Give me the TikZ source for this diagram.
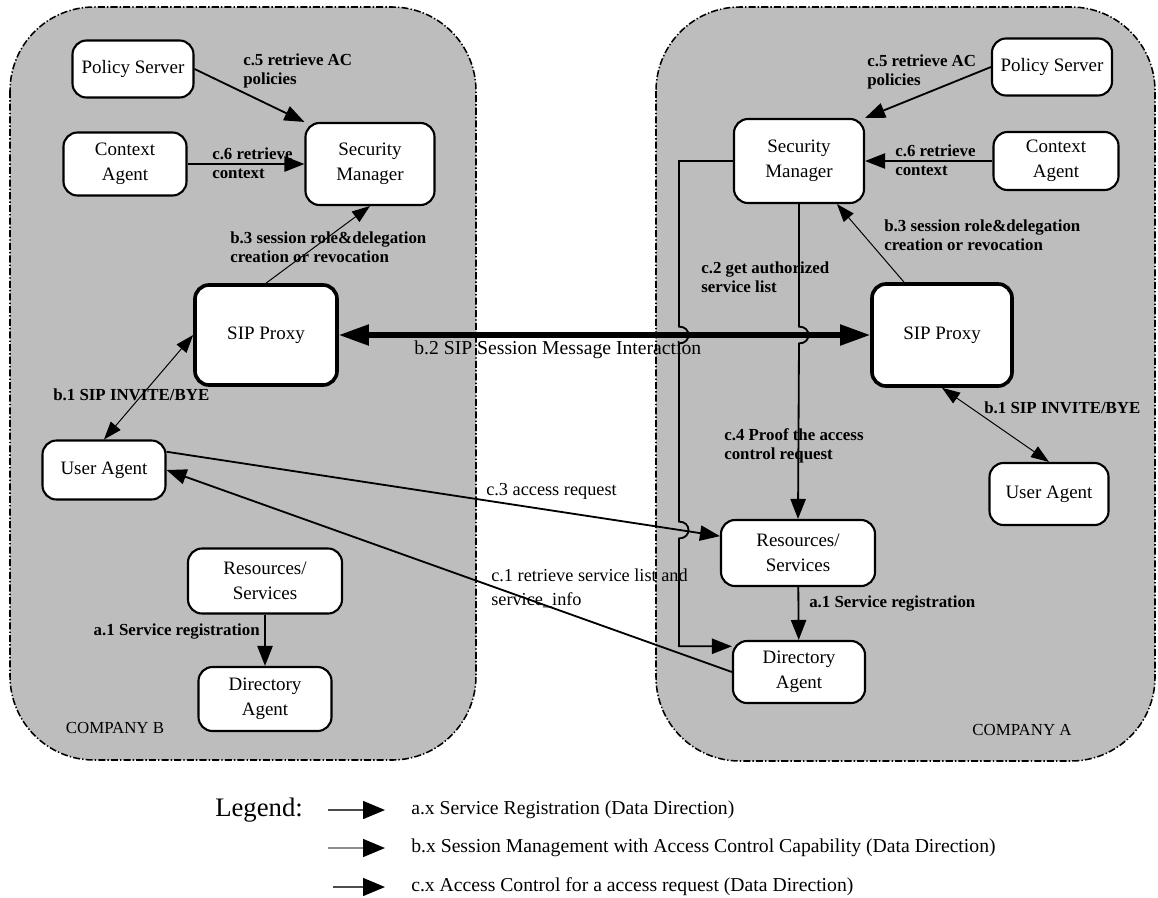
\documentclass[tikz,border=0pt]{standalone}
\usepackage{fontspec}
\setmainfont{Liberation Serif}
\usetikzlibrary{positioning,arrows.meta,calc}
\tikzset{
  company/.style={draw, dash pattern=on 5pt off 1.5pt on 1pt off 1.5pt, line width=1.1pt, rounded corners=21mm, fill=black!26},
  unit/.style={draw, rounded corners=3.5mm, line width=1.5pt, fill=white, align=center, minimum width=30mm, minimum height=15mm, font=\fontsize{13.5}{17.5}\selectfont},
  proxy/.style={unit, line width=2.6pt, minimum width=35.5mm, minimum height=25mm},
  reqarrow/.style={-{Triangle[length=5mm,width=3.8mm]}, line width=1.3pt},
  sessarrow/.style={{Triangle[length=4.5mm,width=3.2mm]}-{Triangle[length=4.5mm,width=3.2mm]}, line width=0.7pt},
  sesstip/.style={-{Triangle[length=4.5mm,width=3.2mm]}, line width=0.7pt},
  bigarrow/.style={{Triangle[length=7.5mm,width=5mm]}-{Triangle[length=7.5mm,width=5mm]}, line width=3.6pt},
  steplabel/.style={font=\bfseries\fontsize{12}{13.5}\selectfont, align=left, inner sep=0pt},
  msglabel/.style={font=\fontsize{13}{17}\selectfont, align=left, inner sep=0pt},
  keytext/.style={font=\fontsize{14}{17}\selectfont, anchor=west, inner sep=0pt},
  keyarrow/.style={-{Triangle[length=5.5mm,width=4.5mm,color=black]}, line width=1pt}
}

\begin{document}
\begin{tikzpicture}[x=0.25mm, y=-0.25mm]
      \useasboundingbox (0,0) rectangle (1158,897);
      \draw[company] (10,7) rectangle (476,760);
      \draw[company] (656,7) rectangle (1155,761);
      \node[font=\fontsize{12}{14}\selectfont] (compB) at (115,728) {COMPANY B};
      \node[font=\fontsize{12}{14}\selectfont] (compA) at (1022,730) {COMPANY A};

      % company B
      \node[unit, minimum width=30.25mm, minimum height=14.25mm] (polB) at (133,69) {Policy Server};
      \node[unit, minimum width=30.75mm, minimum height=15.75mm] (ctxB) at (125,164) {Context\\Agent};
      \node[unit, minimum width=32.25mm, minimum height=20.5mm] (secB) at (370,164) {Security\\Manager};
      \node[proxy] (sipB) at (266,335) {SIP Proxy};
      \node[unit, minimum width=30.75mm, minimum height=14.75mm] (uaB) at (104,470) {User Agent};
      \node[unit, minimum width=38.5mm, minimum height=16.25mm] (resB) at (265,581) {Resources/\\Services};
      \node[unit, minimum width=33.25mm, minimum height=16mm] (dirB) at (265,699) {Directory\\Agent};

      % company A
      \node[unit, minimum width=30mm, minimum height=14.25mm] (polA) at (1052,67) {Policy Server};
      \node[unit, minimum width=31.25mm, minimum height=14.5mm] (ctxA) at (1056,161) {Context\\Agent};
      \node[unit, minimum width=32.5mm, minimum height=21mm] (secA) at (799,161) {Security\\Manager};
      \node[proxy, minimum width=35mm, minimum height=25.5mm] (sipA) at (942,335) {SIP Proxy};
      \node[unit, minimum width=29.75mm, minimum height=15.5mm] (uaA) at (1049,494) {User Agent};
      \node[unit, minimum width=38.5mm, minimum height=16.5mm] (resA) at (798,553) {Resources/\\Services};
      \node[unit, minimum width=33mm, minimum height=15.5mm] (dirA) at (799,672) {Directory\\Agent};

      \coordinate (c2x) at (679,0);
      \coordinate (c3hop) at (679,530);
      \coordinate (c2end) at ([yshift=-4.5pt]dirA.north west);

      % connectors
      \draw[reqarrow] (polB.east) -- (secB.north west);
      \draw[reqarrow] (ctxB) -- (secB);
      \draw[sesstip] (sipB.north) -- (secB.south);
      \draw[sessarrow] (uaB.north) -- (sipB.west);
      \draw[reqarrow] (resB) -- (dirB);
      \draw[bigarrow] (sipB) -- (sipA);
      \draw[reqarrow] (polA.west) -- (secA.north east);
      \draw[reqarrow] (ctxA) -- (secA);
      \draw[sesstip] ([xshift=-27pt]sipA.north) -- ([xshift=27pt]secA.south);
      \draw[sessarrow] (sipA.south) -- (uaA.north);
      \draw[reqarrow] (resA) -- (dirA);
      \draw[reqarrow] ([yshift=13pt]uaB.east) -- ([yshift=12pt]resA.west);
      \draw[reqarrow] (dirA.west) -- (uaB.east);
      \draw[reqarrow] (secA.south) -- ([yshift=6pt]secA.south |- sipA.west)
        .. controls +(9pt,0) and +(9pt,0) .. ([yshift=-6pt]secA.south |- sipA.west) -- (resA.north);
      \draw[reqarrow] (secA.west) -- (c2x |- secA.west) -- ([yshift=6pt]c2x |- sipA.west)
        .. controls +(9pt,0) and +(9pt,0) .. ([yshift=-6pt]c2x |- sipA.west) -- ([yshift=6pt]c3hop)
        .. controls +(9pt,0) and +(9pt,0) .. ([yshift=-6pt]c3hop) -- (c2x |- c2end) -- (c2end);

      % labels
      \node[steplabel, anchor=west] (c5B) at (243,71) {c.5 retrieve AC\\policies};
      \node[steplabel, anchor=west] (c6B) at (212,163) {c.6 retrieve\\context};
      \node[steplabel, anchor=west] (b3B) at (230,247) {b.3 session role\&delegation\\creation or revocation};
      \node[steplabel, anchor=west] (b1B) at (53,395) {b.1 SIP INVITE/BYE};
      \node[steplabel, anchor=east] (a1B) at (260,631) {a.1 Service registration};
      \node[msglabel, anchor=west, font=\fontsize{14}{17}\selectfont] (b2) at (414,350) {b.2 SIP Session Message Interaction};
      \node[steplabel, anchor=west] (c5A) at (867,72) {c.5 retrieve AC\\policies};
      \node[steplabel, anchor=west] (c6A) at (895,160) {c.6 retrieve\\context};
      \node[steplabel, anchor=west] (b3A) at (884,235) {b.3 session role\&delegation\\creation or revocation};
      \node[steplabel, anchor=west] (b1A) at (984,408) {b.1 SIP INVITE/BYE};
      \node[steplabel, anchor=west] (c2) at (701,277) {c.2 get authorized\\service list};
      \node[steplabel, anchor=west] (c4) at (724,446) {c.4 Proof the access\\control request};
      \node[steplabel, anchor=west] (a1A) at (809,603) {a.1 Service registration};
      \node[msglabel, anchor=west] (c3) at (486,491) {c.3 access request};
      \node[msglabel, anchor=west] (c1) at (491,588) {c.1 retrieve service list and\\service\_info};

      % legend
      \node[anchor=west, inner sep=0pt, font=\fontsize{19}{22}\selectfont] (legend) at (215,810) {Legend:};
      \coordinate (keyA) at (328,810);
      \coordinate (keyB) at (328,848);
      \coordinate (keyC) at (333,887);
      \draw[keyarrow, black!70] (keyA) -- ++(57,0);
      \draw[keyarrow, black!45] (keyB) -- ++(57,0);
      \draw[keyarrow, black!70] (keyC) -- ++(52,0);
      \node[keytext] (keyAtxt) at (411,810) {a.x Service Registration (Data Direction)};
      \node[keytext] (keyBtxt) at (411,848) {b.x Session Management with Access Control Capability (Data Direction)};
      \node[keytext] (keyCtxt) at (411,887) {c.x Access Control for a access request (Data Direction)};
\end{tikzpicture}
\end{document}
